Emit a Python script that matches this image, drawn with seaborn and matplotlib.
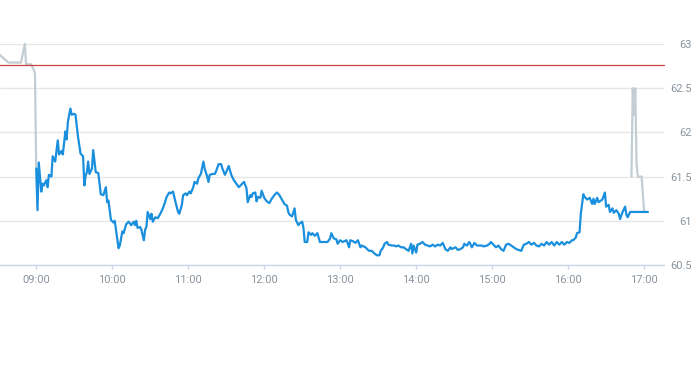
import pandas as pd
import matplotlib.pyplot as plt
import matplotlib.dates as mdates
import seaborn as sns

# pre-market (grey)
pre_times = ["08:31", "08:38", "08:48", "08:51", "08:52", "08:56", "08:58", "08:59", "09:00"]
pre_prices = [62.88, 62.79, 62.79, 63.00, 62.77, 62.77, 62.71, 62.67, 61.59]

# regular session (blue)
session_times = [
    "09:00", "09:01", "09:02", "09:04", "09:05", "09:06", "09:08", "09:09", "09:10", "09:12",
    "09:13", "09:15", "09:17", "09:18", "09:20", "09:21", "09:23", "09:24", "09:25", "09:27",
    "09:28", "09:30", "09:31", "09:33", "09:35", "09:37", "09:38", "09:39", "09:40", "09:41",
    "09:42", "09:44", "09:45", "09:47", "09:49", "09:51", "09:53", "09:55", "09:56", "09:57",
    "09:59", "10:01", "10:02", "10:05", "10:06", "10:08", "10:09", "10:11", "10:13", "10:15",
    "10:17", "10:18", "10:19", "10:20", "10:22", "10:23", "10:25", "10:26", "10:27", "10:28",
    "10:30", "10:31", "10:32", "10:34", "10:36", "10:38", "10:40", "10:41", "10:43", "10:45",
    "10:46", "10:48", "10:49", "10:50", "10:52", "10:53", "10:55", "10:56", "10:58", "10:59",
    "11:01", "11:02", "11:04", "11:05", "11:07", "11:08", "11:10", "11:12", "11:13", "11:15",
    "11:16", "11:17", "11:19", "11:21", "11:22", "11:24", "11:26", "11:27", "11:29", "11:30",
    "11:32", "11:34", "11:36", "11:38", "11:40", "11:42", "11:44", "11:46", "11:47", "11:49",
    "11:50", "11:51", "11:53", "11:54", "11:55", "11:57", "11:58", "12:00", "12:02", "12:04",
    "12:06", "12:08", "12:10", "12:12", "12:14", "12:16", "12:18", "12:19", "12:20", "12:22",
    "12:24", "12:25", "12:27", "12:28", "12:30", "12:31", "12:32", "12:34", "12:35", "12:37",
    "12:38", "12:40", "12:42", "12:44", "12:47", "12:50", "12:52", "12:53", "12:55", "12:57",
    "12:58", "13:00", "13:02", "13:05", "13:06", "13:07", "13:08", "13:10", "13:12", "13:14",
    "13:16", "13:17", "13:20", "13:22", "13:23", "13:25", "13:27", "13:29", "13:31", "13:32",
    "13:34", "13:35", "13:37", "13:38", "13:41", "13:43", "13:44", "13:46", "13:48", "13:50",
    "13:52", "13:54", "13:56", "13:57", "13:58", "14:00", "14:01", "14:03", "14:05", "14:07",
    "14:09", "14:11", "14:13", "14:15", "14:17", "14:19", "14:21", "14:23", "14:25", "14:27",
    "14:28", "14:31", "14:33", "14:35", "14:37", "14:38", "14:40", "14:42", "14:44", "14:46",
    "14:48", "14:50", "14:52", "14:53", "14:56", "14:58", "14:59", "15:01", "15:03", "15:05",
    "15:07", "15:09", "15:11", "15:13", "15:15", "15:17", "15:19", "15:21", "15:23", "15:25",
    "15:27", "15:29", "15:31", "15:33", "15:35", "15:37", "15:39", "15:41", "15:43", "15:45",
    "15:47", "15:49", "15:51", "15:53", "15:55", "15:57", "15:59", "16:01", "16:03", "16:04",
    "16:06", "16:07", "16:09", "16:10", "16:12", "16:13", "16:15", "16:16", "16:17", "16:19",
    "16:20", "16:21", "16:23", "16:24", "16:26", "16:27", "16:29", "16:30", "16:32", "16:33",
    "16:35", "16:36", "16:38", "16:40", "16:41", "16:43", "16:45", "16:46", "16:47", "16:49",
    "16:54", "17:00", "17:03",
]
session_prices = [
    61.59, 61.12, 61.66, 61.33, 61.42, 61.40, 61.46, 61.38, 61.52, 61.50,
    61.73, 61.67, 61.91, 61.75, 61.79, 61.75, 62.01, 61.92, 62.12, 62.27,
    62.20, 62.21, 62.20, 61.95, 61.76, 61.73, 61.40, 61.51, 61.55, 61.67,
    61.53, 61.59, 61.80, 61.55, 61.54, 61.30, 61.29, 61.38, 61.21, 61.23,
    61.01, 60.98, 61.00, 60.69, 60.72, 60.88, 60.86, 60.96, 60.99, 60.95,
    60.99, 60.95, 61.00, 60.92, 60.93, 60.90, 60.78, 60.90, 60.93, 61.10,
    61.02, 61.08, 60.99, 61.04, 61.03, 61.08, 61.14, 61.18, 61.27, 61.32,
    61.31, 61.33, 61.27, 61.21, 61.10, 61.08, 61.18, 61.29, 61.31, 61.29,
    61.33, 61.31, 61.38, 61.44, 61.42, 61.48, 61.53, 61.67, 61.59, 61.50,
    61.44, 61.52, 61.53, 61.53, 61.56, 61.64, 61.64, 61.59, 61.52, 61.55,
    61.62, 61.52, 61.46, 61.42, 61.38, 61.41, 61.44, 61.37, 61.21, 61.29,
    61.27, 61.31, 61.32, 61.22, 61.27, 61.26, 61.34, 61.26, 61.22, 61.20,
    61.25, 61.29, 61.32, 61.29, 61.24, 61.19, 61.17, 61.10, 61.07, 61.05,
    61.14, 61.01, 60.95, 60.97, 60.99, 60.92, 60.76, 60.76, 60.87, 60.84,
    60.86, 60.83, 60.86, 60.76, 60.76, 60.76, 60.80, 60.86, 60.80, 60.79,
    60.74, 60.78, 60.76, 60.78, 60.74, 60.70, 60.78, 60.77, 60.75, 60.78,
    60.70, 60.72, 60.70, 60.67, 60.66, 60.66, 60.63, 60.61, 60.61, 60.66,
    60.70, 60.74, 60.76, 60.73, 60.72, 60.72, 60.71, 60.72, 60.70, 60.70,
    60.68, 60.66, 60.74, 60.63, 60.72, 60.64, 60.73, 60.74, 60.76, 60.73,
    60.72, 60.71, 60.73, 60.71, 60.73, 60.72, 60.75, 60.68, 60.66, 60.70,
    60.68, 60.70, 60.67, 60.68, 60.70, 60.74, 60.72, 60.76, 60.70, 60.75,
    60.72, 60.72, 60.72, 60.71, 60.72, 60.74, 60.76, 60.73, 60.70, 60.72,
    60.68, 60.66, 60.73, 60.74, 60.72, 60.70, 60.68, 60.67, 60.66, 60.73,
    60.74, 60.76, 60.73, 60.75, 60.72, 60.71, 60.74, 60.72, 60.76, 60.73,
    60.76, 60.72, 60.76, 60.73, 60.76, 60.73, 60.76, 60.75, 60.78, 60.78,
    60.81, 60.86, 60.87, 61.08, 61.30, 61.27, 61.24, 61.25, 61.26, 61.19,
    61.25, 61.19, 61.26, 61.21, 61.23, 61.24, 61.32, 61.16, 61.18, 61.10,
    61.14, 61.09, 61.12, 61.08, 61.02, 61.10, 61.16, 61.07, 61.04, 61.10,
    61.10, 61.10, 61.10,
]

# after-hours (grey)
post_times = ["16:50", "16:51", "16:52", "16:53", "16:54", "16:55", "16:58", "17:00"]
post_prices = [61.50, 62.50, 62.20, 62.50, 61.65, 61.50, 61.50, 61.10]

prev_close = 62.76
y_ticks = [60.5, 61, 61.5, 62, 62.5, 63]
y_labels = ["60.5", "61", "61.5", "62", "62.5", "63"]
x_ticks = ["09:00", "10:00", "11:00", "12:00", "13:00", "14:00", "15:00", "16:00", "17:00"]

day = "2024-03-01 "


def to_dt(times):
    return pd.to_datetime([day + t for t in times])


blue = "#1a8fdd"
grey = "#c2cdd4"
label_col = "#8a949e"

sns.set_style("white")
plt.rcParams['font.family'] = ['Roboto', 'DejaVu Sans']

fig = plt.figure(figsize=(6.93, 3.65), dpi=100)
ax = fig.add_axes([0, 0.274, 0.958, 0.6055])

sns.lineplot(x=to_dt(pre_times), y=pre_prices, color=grey, linewidth=1.6, estimator=None, ax=ax)
sns.lineplot(x=to_dt(post_times), y=post_prices, color=grey, linewidth=1.6, estimator=None, ax=ax)
sns.lineplot(x=to_dt(session_times), y=session_prices, color=blue, linewidth=1.6, estimator=None, ax=ax)
ax.axhline(prev_close, color="#c9423b", linewidth=0.9, zorder=3)

for ln in ax.get_lines():
    ln.set_clip_on(False)

ax.set_xlim(pd.Timestamp(day + "08:31:24"), pd.Timestamp(day + "17:15:36"))
ax.set_ylim(60.5, 63)

ax.set_xticks(to_dt(x_ticks))
ax.xaxis.set_major_formatter(mdates.DateFormatter("%H:%M"))
ax.set_yticks(y_ticks)
ax.set_yticklabels(y_labels)
ax.yaxis.tick_right()

ax.grid(axis="y", color="#e6e6e6", linewidth=1)
ax.grid(axis="x", visible=False)
for side in ["top", "left", "right"]:
    ax.spines[side].set_visible(False)
ax.spines["bottom"].set_color("#ccd6eb")
ax.spines["bottom"].set_linewidth(1)

ax.tick_params(axis="x", length=3, width=1, color="#ccd6eb", pad=4,
               labelsize=8, labelcolor=label_col, bottom=True)
ax.tick_params(axis="y", length=0, pad=20, labelsize=8, labelcolor=label_col)
for lab in ax.get_yticklabels():
    lab.set_horizontalalignment("right")

ax.set_xlabel("")
ax.set_ylabel("")

fig.savefig("out.png", dpi=100)
